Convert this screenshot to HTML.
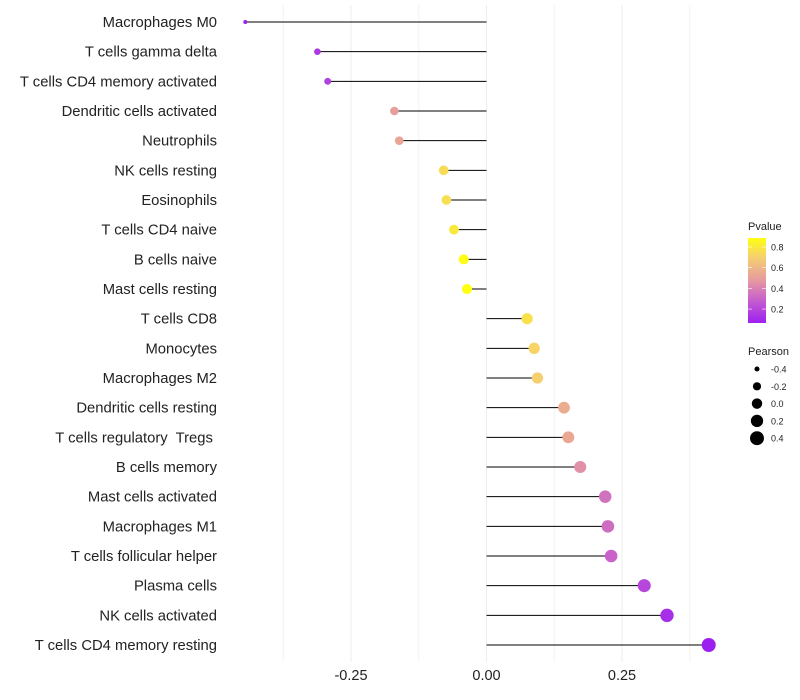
<!DOCTYPE html>
<html><head><meta charset="utf-8">
<style>
body{margin:0;background:#fff;font-family:"Liberation Sans",sans-serif;}
svg{display:block}
text{white-space:pre}
</style></head>
<body>
<svg id="chart" width="800" height="700"></svg>
<script>
const categories=["Macrophages M0","T cells gamma delta","T cells CD4 memory activated","Dendritic cells activated","Neutrophils","NK cells resting","Eosinophils","T cells CD4 naive","B cells naive","Mast cells resting","T cells CD8","Monocytes","Macrophages M2","Dendritic cells resting","T cells regulatory  Tregs ","B cells memory","Mast cells activated","Macrophages M1","T cells follicular helper","Plasma cells","NK cells activated","T cells CD4 memory resting"];
const pearson=[-0.445,-0.312,-0.293,-0.170,-0.161,-0.079,-0.074,-0.060,-0.042,-0.036,0.075,0.088,0.094,0.143,0.151,0.173,0.219,0.224,0.230,0.291,0.333,0.410];
const pvalues=[0.04,0.15,0.18,0.50,0.52,0.75,0.76,0.80,0.88,0.90,0.77,0.72,0.70,0.56,0.54,0.45,0.35,0.33,0.30,0.20,0.12,0.05];
const xTicks=[-0.25,0,0.25];
const xTickLabels=["-0.25","0.00","0.25"];
const xMinor=[-0.375,-0.125,0.125,0.375];
const pTicks=[0.2,0.4,0.6,0.8];
const sizeTicks=[-0.4,-0.2,0.0,0.2,0.4];

const NS="http://www.w3.org/2000/svg";
const svg=document.getElementById('chart');
function el(t,a,p){const e=document.createElementNS(NS,t);for(const k in a)e.setAttribute(k,a[k]);(p||svg).appendChild(e);return e;}
const x=v=>486.5+v*542;
const y=i=>22+i*(623/(categories.length-1));
const r=v=>Math.sqrt(Math.max(1,27.4+52.6*v));
const stops=[[0.065,[157,31,240]],[0.27,[196,90,208]],[0.48,[230,154,160]],[0.7,[245,207,112]],[0.887,[255,255,16]]];
function col(p){
  if(p<=stops[0][0])return `rgb(${stops[0][1]})`;
  for(let i=1;i<stops.length;i++){if(p<=stops[i][0]){const a=stops[i-1],b=stops[i],t=(p-a[0])/(b[0]-a[0]);return 'rgb('+a[1].map((c,j)=>Math.round(c+(b[1][j]-c)*t)).join(',')+')';}}
  return `rgb(${stops[stops.length-1][1]})`;
}
xMinor.forEach(v=>{const l=el('line',{x1:x(v),x2:x(v),y1:5,y2:662,stroke:'#f4f4f4','stroke-width':1});

});
xTicks.forEach((v,i)=>{const l=el('line',{x1:x(v),x2:x(v),y1:5,y2:662,stroke:'#ededed','stroke-width':1});


const t=el('text',{x:x(v),y:680,'text-anchor':'middle','font-size':14.5,fill:'#222'});t.textContent=xTickLabels[i];

});
categories.forEach((c,i)=>{
  const t=el('text',{x:217,y:y(i)+5,'text-anchor':'end','font-size':14.8,fill:'#222'});t.textContent=c;
  
  
  const l=el('line',{x1:x(0),x2:x(pearson[i]),y1:y(i),y2:y(i),stroke:'#000','stroke-width':1});
  
  
  const d=el('circle',{cx:x(pearson[i]),cy:y(i),r:r(pearson[i]),fill:col(pvalues[i])});
  
  
});
const defs=el('defs',{});
const g=el('linearGradient',{id:'pg',x1:0,y1:1,x2:0,y2:0},defs);
stops.forEach(s=>el('stop',{offset:(s[0]-0.065)/(0.887-0.065),'stop-color':`rgb(${s[1]})`},g));
const pt=el('text',{x:748,y:230,'font-size':11,fill:'#222'});pt.textContent='Pvalue';


const cb=el('rect',{x:748,y:238,width:18,height:85,fill:'url(#pg)'});


const py=p=>323-(p-0.065)/(0.887-0.065)*85;
pTicks.forEach(p=>{
  el('line',{x1:748,x2:752,y1:py(p),y2:py(p),stroke:'#fff','stroke-width':0.6});
  el('line',{x1:762,x2:766,y1:py(p),y2:py(p),stroke:'#fff','stroke-width':0.6});
  const t=el('text',{x:771,y:py(p)+3.5,'font-size':9,fill:'#222'});t.textContent=p.toFixed(1);
  
  
});
const st=el('text',{x:748,y:355,'font-size':11,fill:'#222'});st.textContent='Pearson';


sizeTicks.forEach((v,i)=>{
  const cy=369+i*17.3;
  const c=el('circle',{cx:757,cy:cy,r:r(v),fill:'#000'});
  
  
  const t=el('text',{x:771,y:cy+3.5,'font-size':9,fill:'#222'});t.textContent=v.toFixed(1);
  
  
});
</script>
</body></html>
